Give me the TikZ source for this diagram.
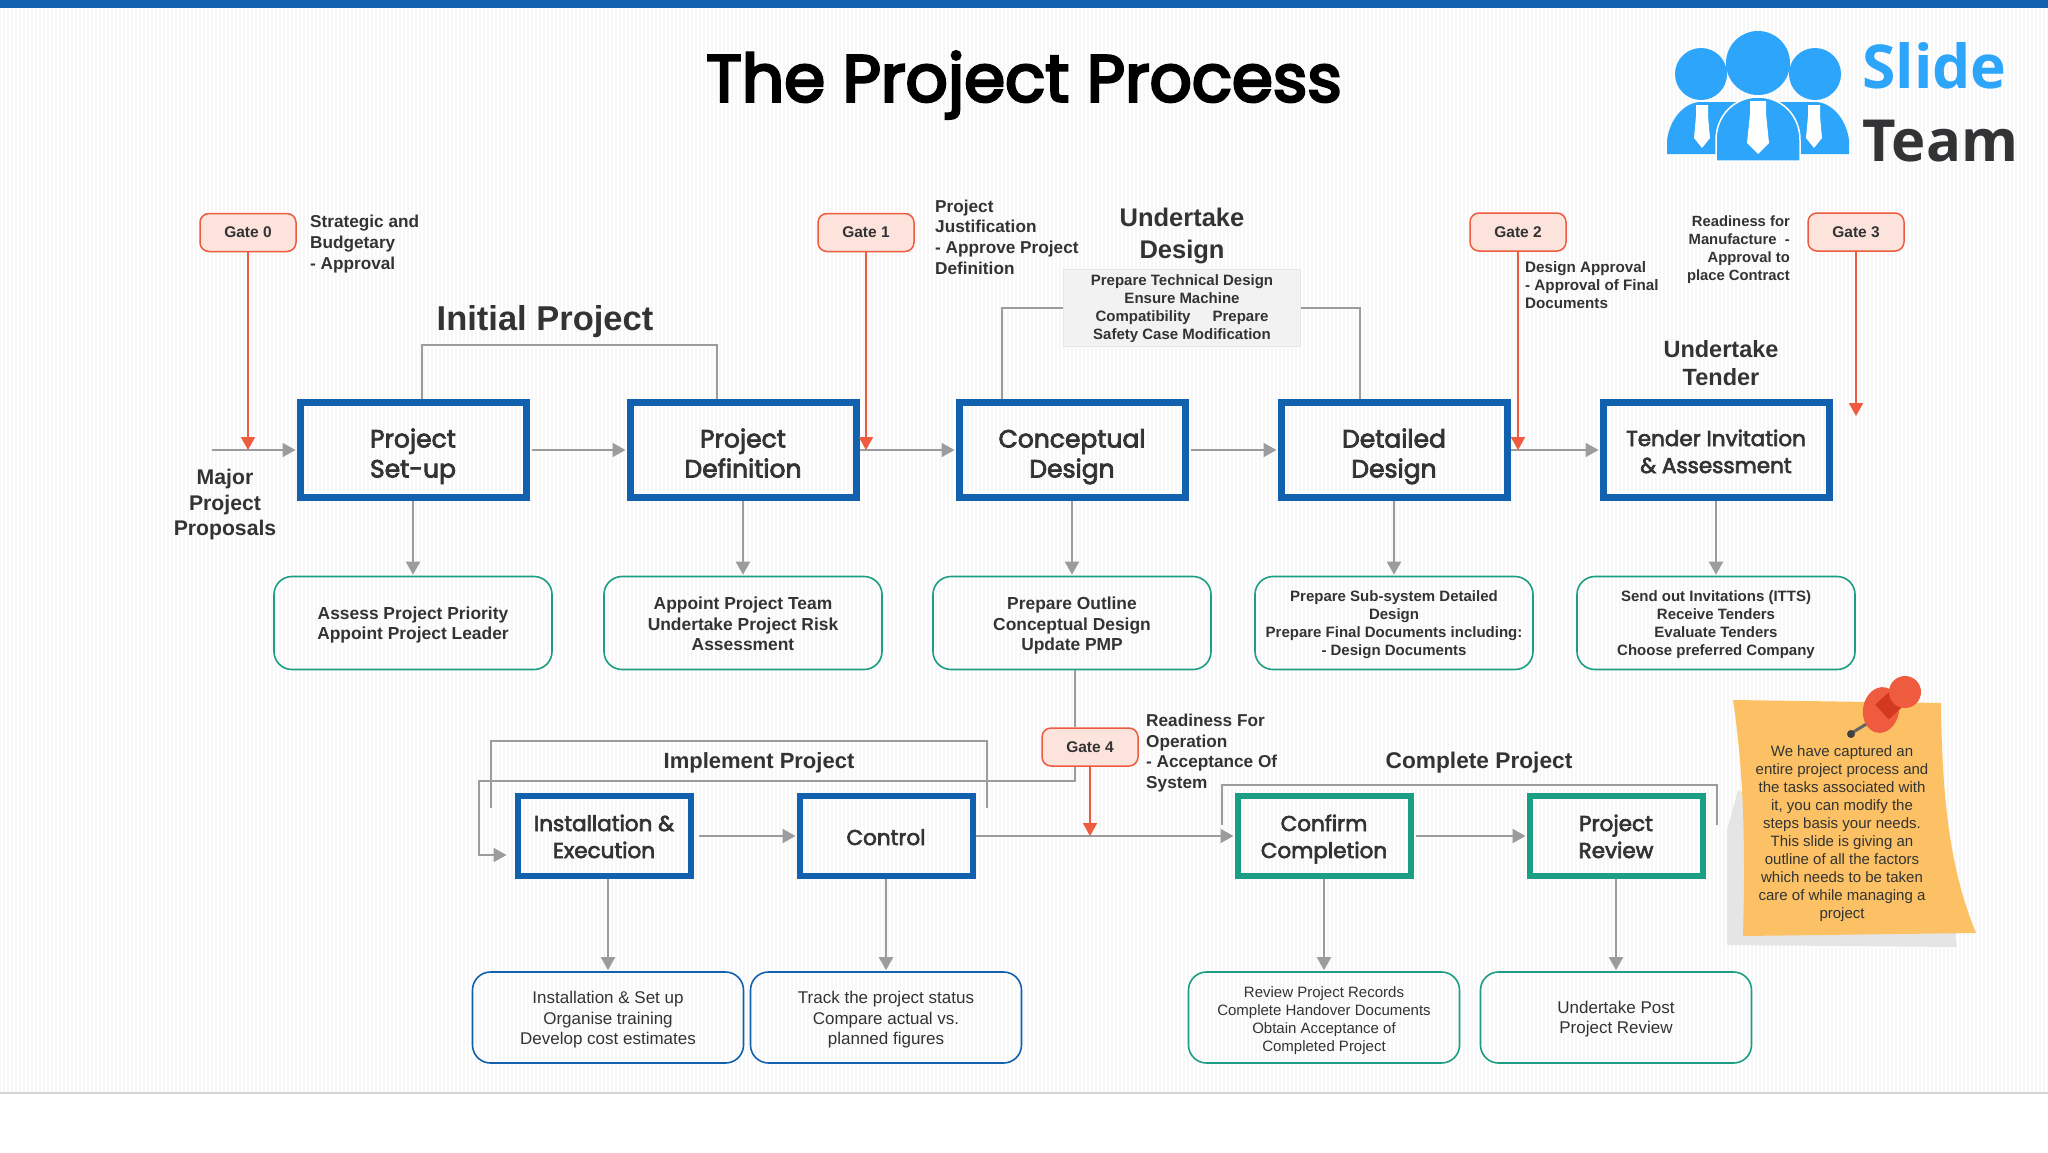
\documentclass[tikz,border=0pt]{standalone}
\usepackage{fontspec}
\setmainfont{Liberation Sans}
\newfontfamily\gothicfont[FakeBold=3]{Poppins}
\newfontfamily\titlefont[FakeBold=4]{Poppins}
\newcommand{\mediumfont}{\bfseries}
\newfontfamily\logofont{Open Sans}
\usetikzlibrary{arrows.meta}
\definecolor{barblue}{HTML}{1261AE}
\definecolor{stepteal}{HTML}{1C9E85}
\definecolor{gatered}{HTML}{EE5B3E}
\definecolor{gatefill}{HTML}{FCE3DC}
\definecolor{flowgray}{HTML}{9C9C9E}
\definecolor{inkgray}{HTML}{333336}
\definecolor{noteorange}{HTML}{FBC164}
\definecolor{logoblue}{HTML}{2CA5FB}
\definecolor{pinneck}{HTML}{D4381E}
\newcommand{\fs}[2]{\fontsize{#1}{#2}\selectfont}
\tikzset{
	lift/.style={text height=#1,text depth=0pt},
	stepbox/.style={draw=#1,line width=7pt,minimum width=226pt,minimum height=95pt,align=center,text=inkgray,font=\gothicfont\fs{25}{30},lift=55pt},
	implbox/.style={stepbox=#1,line width=6pt,minimum width=173pt,minimum height=80pt,font=\gothicfont\fs{21.5}{27},lift=44pt},
	taskbox/.style={draw=#1,line width=1.6pt,rounded corners=18pt,minimum width=278pt,minimum height=93pt,align=center,text=inkgray},
	lowbox/.style={taskbox=#1,minimum width=271pt,minimum height=91pt},
	gatebox/.style={draw=gatered,line width=1.5pt,fill=gatefill,rounded corners=9pt,minimum width=96pt,minimum height=38pt,text=inkgray,font=\mediumfont\fs{15.5}{18}},
	caption/.style={align=left,anchor=west,text=inkgray,inner sep=0pt,font=\mediumfont\fs{17.2}{20.6}},
	heading/.style 2 args={align=center,text=inkgray,inner sep=0pt,font=\mediumfont\fs{#1}{#2}},
	flow/.style={draw=flowgray,line width=2pt},
	flowarrow/.style={flow,-{Triangle[length=13pt,width=14pt]},shorten >=1pt},
	gatearrow/.style={draw=gatered,line width=2pt,-{Triangle[length=13pt,width=14pt]}},
}
\begin{document}
\begin{tikzpicture}[x=1pt,y=-1pt]
	\useasboundingbox (0,0) rectangle (2048,1152);
	\fill[white] (0,0) rectangle (2048,1152);
	\fill[black!3] (0,8) rectangle (2048,1093);
	\foreach \x in {2,6,...,2048}
		\draw[white,line width=1.5pt] (\x,8) -- (\x,1093);
	\fill[barblue] (0,0) rectangle (2048,8);
	\draw[black!17,line width=1.5pt] (0,1093) -- (2048,1093);
	\node[text=black,font=\titlefont\fs{66}{80}] (title) at (1024,85) {The Project Process};

	% logo
	\fill[logoblue] (1667,154) -- (1667,140) .. controls (1670,118) and (1685,102) .. (1701,102) -- (1815,102) .. controls (1831,102) and (1846,118) .. (1849,140) -- (1849,154) -- cycle;
	\fill[logoblue] (1701,74) circle (26pt) (1815,74) circle (26pt) (1758,63) circle (32pt);
	\fill[logoblue,draw=white,line width=1.5pt] (1716,161) -- (1716,140) .. controls (1716,115) and (1735,97) .. (1758,97) .. controls (1781,97) and (1800,115) .. (1800,140) -- (1800,161) -- cycle;
	\fill[white] (1750,101) -- (1766,101) -- (1766,114) -- (1769,143) -- (1758,154) -- (1747,143) -- (1750,114) -- cycle;
	\fill[white] (1696,105) -- (1708,105) -- (1708,116) -- (1710,138) -- (1702,148) -- (1694,138) -- (1696,116) -- cycle;
	\fill[white] (1808,105) -- (1820,105) -- (1820,116) -- (1822,138) -- (1814,148) -- (1806,138) -- (1808,116) -- cycle;
	\node[text=logoblue,anchor=base west,inner sep=0pt,font=\logofont\bfseries\fs{60.5}{70}] (slide) at (1862,88) {Slide};
	\node[text=inkgray,anchor=base west,inner sep=0pt,font=\logofont\bfseries\fs{58}{70}] (team) at (1862,161) {Team};

	% main steps
	\node[stepbox=barblue] (setup) at (413,450) {Project\\Set-up};
	\node[stepbox=barblue] (defn) at (743,450) {Project\\Definition};
	\node[stepbox=barblue] (concept) at (1072,450) {Conceptual\\Design};
	\node[stepbox=barblue] (detail) at (1394,450) {Detailed\\Design};
	\node[stepbox=barblue,font=\gothicfont\fs{21.5}{27},lift=46pt] (tender) at (1716,450) {Tender Invitation\\\& Assessment};
	\node[implbox=barblue] (install) at (604,836) {Installation \&\\Execution};
	\node[implbox=barblue,lift=18pt] (control) at (886,836) {Control};
	\node[implbox=stepteal] (confirm) at (1324,836) {Confirm\\Completion};
	\node[implbox=stepteal] (review) at (1616,836) {Project\\Review};

	% tasks
	\tikzset{node distance=173pt}
	\node[taskbox=stepteal,below of=setup,lift=33pt,font=\mediumfont\fs{17.4}{20.5}] (setuptask) {Assess Project Priority\\Appoint Project Leader};
	\node[taskbox=stepteal,below of=defn,lift=55pt,font=\mediumfont\fs{17.4}{20.5}] (defntask) {Appoint Project Team\\Undertake Project Risk\\Assessment};
	\node[taskbox=stepteal,below of=concept,lift=55pt,font=\mediumfont\fs{17.4}{20.5}] (concepttask) {Prepare Outline\\Conceptual Design\\Update PMP};
	\node[taskbox=stepteal,below of=detail,lift=65pt,font=\mediumfont\fs{15}{18}] (detailtask) {Prepare Sub-system Detailed\\Design\\Prepare Final Documents including:\\- Design Documents};
	\node[taskbox=stepteal,below of=tender,lift=65pt,font=\mediumfont\fs{15}{18}] (tendertask) {Send out Invitations (ITTS)\\Receive Tenders\\Evaluate Tenders\\Choose preferred Company};
	\tikzset{node distance=181.5pt}
	\node[lowbox=barblue,below of=install,xshift=4pt,lift=54pt,font=\fs{17}{20.5}] (installtask) {Installation \& Set up\\Organise training\\Develop cost estimates};
	\node[lowbox=barblue,below of=control,lift=54pt,font=\fs{17}{20.5}] (controltask) {Track the project status\\Compare actual vs.\\planned figures};
	\node[lowbox=stepteal,below of=confirm,lift=67pt,font=\fs{15}{18}] (confirmtask) {Review Project Records\\Complete Handover Documents\\Obtain Acceptance of\\Completed Project};
	\node[lowbox=stepteal,below of=review,lift=32pt,font=\fs{17}{20.5}] (reviewtask) {Undertake Post\\Project Review};

	% gates
	\node[gatebox] (gate0) at (248,232.5) {Gate 0};
	\node[gatebox] (gate1) at (866,232.5) {Gate 1};
	\node[gatebox] (gate2) at (1518,232) {Gate 2};
	\node[gatebox] (gate3) at (1856,232) {Gate 3};
	\node[gatebox] (gate4) at (1090,747) {Gate 4};
	\coordinate (start) at (212,450);
	\coordinate (gate3end) at (1856,416);

	% flow
	\draw[flowarrow] (start) -- (setup.west);
	\draw[flowarrow] (setup.east) ++(2,0) -- (defn.west);
	\draw[flowarrow] (defn.east) -- (concept.west);
	\draw[flowarrow] (concept.east) ++(2,0) -- (detail.west);
	\draw[flowarrow] (detail.east) -- (tender.west);
	\draw[flowarrow] (install.east) ++(5,0) -- (control.west);
	\draw[flowarrow] (control.east) -- (confirm.west);
	\draw[flowarrow] (confirm.east) ++(2,0) -- (review.west);
	\foreach \from/\to in {setup/setuptask,defn/defntask,concept/concepttask,detail/detailtask,tender/tendertask,control/controltask,confirm/confirmtask,review/reviewtask}
		\draw[flowarrow] (\from.south) -- (\to.north);
	\draw[flowarrow] (install.south -| installtask.north) -- (installtask.north);

	% brackets
	\draw[flow] ([xshift=9pt]setup.north) |- (437,345) -| ([xshift=-26pt]defn.north);
	\node[draw=black!10,line width=1pt,fill=black!5,minimum width=237pt,minimum height=77pt,inner sep=0pt,align=center,text=inkgray,font=\mediumfont\fs{15}{18},lift=64pt] (designtask) at (1182,307.5) {Prepare Technical Design\\Ensure Machine\\Compatibility\hspace{22pt}Prepare\\Safety Case Modification};
	\draw[flow] ([xshift=-70pt]concept.north) |- (designtask.west);
	\draw[flow] (designtask.east) -| ([xshift=-34pt]detail.north);
	\draw[flow] (491,808) |- (987,741) -- (987,808);
	\draw[flow] (1222,825) |- (1717,785) -- (1717,825);
	\draw[flow] ([xshift=-15pt]gate4.north) -- ([xshift=-15pt]gate4.north |- concepttask.south);
	\draw[flowarrow] ([xshift=-15pt]gate4.south) |- (479,781) |- ([xshift=-7pt,yshift=-19pt]install.west);

	% gate arrows
	\draw[gatearrow] (gate0.south) -- (gate0.south |- start);
	\draw[gatearrow] (gate1.south) -- (gate1.south |- defn.east);
	\draw[gatearrow] (gate2.south) -- (gate2.south |- detail.east);
	\draw[gatearrow] (gate3.south) -- (gate3end);
	\draw[gatearrow] (gate4.south) -- (gate4.south |- control.east);

	% labels
	\node[caption] (gate0text) at (310,244) {Strategic and\\Budgetary\\- Approval};
	\node[caption] (gate1text) at (935,237) {Project\\Justification\\- Approve Project\\Definition};
	\node[caption,font=\mediumfont\fs{15.2}{17.8}] (gate2text) at (1525,285) {Design Approval\\- Approval of Final\\Documents};
	\node[caption,align=right,anchor=east,font=\mediumfont\fs{14.8}{18}] (gate3text) at (1790,250) {Readiness for\\Manufacture\ \ -\\Approval to\\place Contract};
	\node[caption] (gate4text) at (1146,753) {Readiness For\\Operation\\- Acceptance Of\\System};
	\node[heading={34.5}{38}] (initial) at (545,322) {Initial Project};
	\node[heading={25.5}{31.3}] (designhead) at (1182,236) {Undertake\\Design};
	\node[heading={23.5}{27.5}] (tenderhead) at (1721,363) {Undertake\\Tender};
	\node[heading={21.2}{25.5}] (proposals) at (225,505) {Major\\Project\\Proposals};
	\node[heading={22}{26}] (implement) at (759,763) {Implement Project};
	\node[heading={22.7}{26}] (complete) at (1479,763) {Complete Project};

	% note
	\fill[black!10] (1738,790) -- (1727,830) -- (1727,945) -- (1957,947) -- (1950,900) -- cycle;
	\fill[noteorange] (1733,700) -- (1941,703) .. controls (1942,800) and (1950,870) .. (1976,933) -- (1743,936) .. controls (1745,860) and (1745,780) .. cycle;
	\draw[black!60,line width=3pt] (1850,734) -- (1868,723);
	\fill[black!75] (1851,734) circle (4pt);
	\fill[gatered,rotate around={-10:(1881,710)}] (1881,710) ellipse [x radius=18pt,y radius=23pt];
	\draw[pinneck,line width=20pt] (1882,712) -- (1895,700);
	\fill[gatered] (1905,692) circle (16pt);
	\node[align=center,text=black!80,font=\fs{15}{18}] (notetext) at (1842,834) {We have captured an\\entire project process and\\the tasks associated with\\it, you can modify the\\steps basis your needs.\\This slide is giving an\\outline of all the factors\\which needs to be taken\\care of while managing a\\project};
\end{tikzpicture}
\end{document}
